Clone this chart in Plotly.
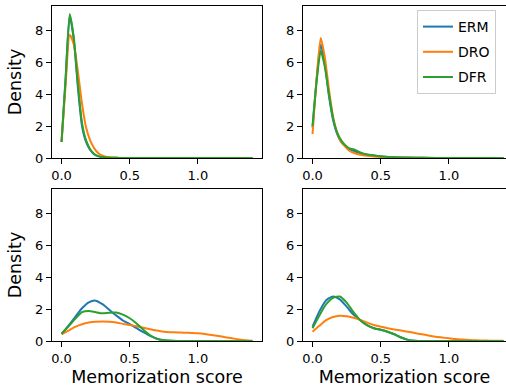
import plotly.graph_objects as go
from plotly.subplots import make_subplots

# ---- data ----
methods = ["ERM", "DRO", "DFR"]
colors = ["#1f77b4", "#ff7f0e", "#2ca02c"]

x_top = [0, 0.03, 0.06, 0.09, 0.12, 0.15, 0.18, 0.21, 0.24, 0.27, 0.30,
         0.35, 0.40, 0.45, 0.50, 0.60, 0.80, 1.00, 1.20, 1.40]

tl_erm = [1.0, 5.0, 8.9, 7.4, 4.4, 2.0, 1.0, 0.5, 0.22, 0.1, 0.05,
          0.02, 0.01, 0, 0, 0, 0, 0, 0, 0]
tl_dro = [1.0, 4.6, 7.7, 7.1, 5.4, 3.4, 1.9, 1.1, 0.6, 0.3, 0.15,
          0.04, 0.01, 0, 0, 0, 0, 0, 0, 0]
tl_dfr = [1.0, 5.0, 9.0, 7.5, 4.6, 2.2, 1.1, 0.55, 0.25, 0.12, 0.06,
          0.02, 0.01, 0, 0, 0, 0, 0, 0, 0]

tr_erm = [1.9, 4.9, 7.1, 5.9, 3.9, 2.4, 1.5, 1.0, 0.75, 0.55, 0.45,
          0.3, 0.2, 0.15, 0.1, 0.04, 0.01, 0, 0, 0]
tr_dro = [1.5, 5.0, 7.5, 6.3, 4.3, 2.6, 1.6, 1.0, 0.7, 0.45, 0.33,
          0.2, 0.14, 0.1, 0.07, 0.03, 0.01, 0, 0, 0]
tr_dfr = [2.0, 4.8, 6.7, 5.7, 4.0, 2.5, 1.6, 1.1, 0.8, 0.6, 0.55,
          0.35, 0.22, 0.16, 0.11, 0.04, 0.01, 0, 0, 0]

x_bot = [0, 0.05, 0.1, 0.15, 0.2, 0.25, 0.3, 0.35, 0.4, 0.45, 0.5,
         0.55, 0.6, 0.65, 0.7, 0.75, 0.8, 0.85, 0.9, 0.95, 1.0,
         1.05, 1.1, 1.15, 1.2, 1.25, 1.3, 1.35, 1.4]

bl_erm = [0.45, 0.95, 1.5, 2.05, 2.42, 2.52, 2.3, 1.95, 1.6, 1.28, 1.05,
          0.8, 0.55, 0.32, 0.14, 0.05, 0.01, 0, 0, 0, 0,
          0, 0, 0, 0, 0, 0, 0, 0]
bl_dro = [0.42, 0.65, 0.88, 1.05, 1.15, 1.2, 1.22, 1.2, 1.15, 1.07, 1.0,
          0.92, 0.83, 0.74, 0.65, 0.58, 0.55, 0.53, 0.52, 0.5, 0.48,
          0.44, 0.38, 0.31, 0.24, 0.17, 0.1, 0.05, 0.02]
bl_dfr = [0.45, 0.9, 1.38, 1.8, 1.88, 1.8, 1.73, 1.77, 1.78, 1.65, 1.42,
          1.1, 0.7, 0.35, 0.13, 0.04, 0.01, 0, 0, 0, 0,
          0, 0, 0, 0, 0, 0, 0, 0]

br_erm = [0.9, 1.85, 2.55, 2.78, 2.6, 2.15, 1.65, 1.3, 1.0, 0.8, 0.7,
          0.58, 0.42, 0.22, 0.07, 0.02, 0, 0, 0, 0, 0,
          0, 0, 0, 0, 0, 0, 0, 0]
br_dro = [0.58, 0.95, 1.3, 1.5, 1.58, 1.55, 1.45, 1.32, 1.15, 1.0, 0.9,
          0.8, 0.72, 0.65, 0.58, 0.5, 0.42, 0.35, 0.27, 0.22, 0.17,
          0.12, 0.09, 0.06, 0.04, 0.03, 0.02, 0.01, 0.01]
br_dfr = [0.8, 1.6, 2.3, 2.7, 2.78, 2.4, 1.8, 1.3, 0.98, 0.8, 0.7,
          0.58, 0.42, 0.22, 0.07, 0.02, 0, 0, 0, 0, 0,
          0, 0, 0, 0, 0, 0, 0, 0]

x_ticks = [0.0, 0.5, 1.0]
x_tick_text = ["0.0", "0.5", "1.0"]
y_ticks = [0, 2, 4, 6, 8]

panels = [
    (1, 1, x_top, [tl_erm, tl_dro, tl_dfr]),
    (1, 2, x_top, [tr_erm, tr_dro, tr_dfr]),
    (2, 1, x_bot, [bl_erm, bl_dro, bl_dfr]),
    (2, 2, x_bot, [br_erm, br_dro, br_dfr]),
]

fig = make_subplots(rows=2, cols=2)

for (r, c, xs, series) in panels:
    for i, (name, ys) in enumerate(zip(methods, series)):
        fig.add_trace(
            go.Scatter(
                x=xs, y=ys, mode="lines", name=name,
                line=dict(color=colors[i], width=2, shape="spline", smoothing=0.6),
                showlegend=(r == 1 and c == 2),
                legendgroup=name,
            ),
            row=r, col=c,
        )

FONT = "DejaVu Sans"
W, H = 506, 389
ml, mr, mt, mb = 52, 0, 6, 48
pw = W - ml - mr
ph = H - mt - mb

def xdom(a, b):
    return [(a - ml) / pw, min(1.0, (b - ml) / pw)]

def ydom(top, bottom):
    return [(H - mb - bottom) / ph, (H - mb - top) / ph]

x_domains = {1: xdom(52, 262), 2: xdom(303, 506)}
y_domains = {1: ydom(6, 158), 2: ydom(189, 341)}

axis_common = dict(
    showline=True, linecolor="black", linewidth=1,
    ticks="outside", ticklen=5, tickwidth=1, tickcolor="black",
    showgrid=False, zeroline=False,
    tickfont=dict(family=FONT, size=13, color="black"),
)

for (r, c, xs, series) in panels:
    idx = (r - 1) * 2 + c
    xname = "xaxis" if idx == 1 else f"xaxis{idx}"
    yname = "yaxis" if idx == 1 else f"yaxis{idx}"
    xr = [-0.07, 1.47] if c == 1 else [-0.07, -0.07 + 203 / 136.4]
    fig.layout[xname].update(
        domain=x_domains[c], range=xr,
        tickvals=x_ticks, ticktext=x_tick_text,
        mirror=True,
        **axis_common,
    )
    fig.layout[yname].update(
        domain=y_domains[r], range=[0, 9.5],
        tickvals=y_ticks,
        mirror=(True if c == 1 else False),
        **axis_common,
    )
    if r == 2:
        fig.layout[xname].title = dict(text="Memorization score",
                                       font=dict(family=FONT, size=17.5, color="black"),
                                       standoff=6)
    if c == 1:
        fig.layout[yname].title = dict(text="Density",
                                       font=dict(family=FONT, size=17.5, color="black"),
                                       standoff=8)

fig.update_layout(
    width=W, height=H,
    margin=dict(l=ml, r=mr, t=mt, b=mb, autoexpand=False),
    paper_bgcolor="white", plot_bgcolor="white",
    font=dict(family=FONT, color="black"),
    legend=dict(
        x=(417 - ml) / pw, y=(H - mb - 10) / ph, xanchor="left", yanchor="top",
        bgcolor="rgba(255,255,255,0.8)", bordercolor="#cccccc", borderwidth=1,
        font=dict(family=FONT, size=14, color="black"),
        itemwidth=30, tracegroupgap=4,
    ),
)

fig.write_html("out.html", config={"displayModeBar": False},
               post_script="document.body.style.margin='0';document.body.style.overflow='hidden';")
